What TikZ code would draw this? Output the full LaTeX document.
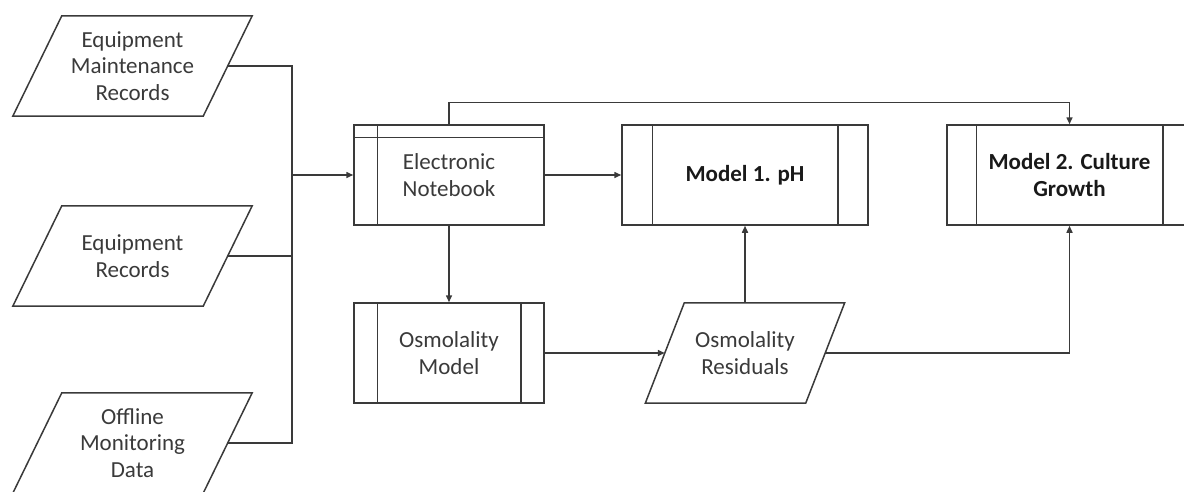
\documentclass[tikz,border=0pt]{standalone}
\usepackage{fontspec}
\setmainfont{Carlito}
\usetikzlibrary{arrows.meta}
\definecolor{ln}{HTML}{3A3A3A}
\definecolor{tx}{HTML}{3A3A3A}
\begin{document}
\begin{tikzpicture}[x=1pt,y=-1pt,
  line/.style={draw=ln, line width=1.5pt},
  arr/.style={line, -{Triangle[length=7pt,width=6pt]}},
  box/.style={line, minimum width=#1, minimum height=100pt, inner sep=0pt, align=center,
              font=\fontsize{23}{26.5}\selectfont, text=tx},
  pbox/.style={minimum width=#1, minimum height=100pt, inner sep=0pt, align=center,
              font=\fontsize{23}{26.5}\selectfont, text=tx},
  bold/.style={font=\fontsize{23}{26.5}\selectfont\bfseries, text=black!90}]
\useasboundingbox (0,0) rectangle (1184,491);
\clip (0,0) rectangle (1184,491);

% input parallelograms
\node[pbox=239pt] (emr) at (132.5,66) {Equipment\\Maintenance\\Records};
\draw[line] ([xshift=49pt]emr.north west) -- (emr.north east) -- ([xshift=-49pt]emr.south east) -- (emr.south west) -- cycle;
\node[pbox=239pt] (er) at (132.5,256) {Equipment\\Records};
\draw[line] ([xshift=49pt]er.north west) -- (er.north east) -- ([xshift=-49pt]er.south east) -- (er.south west) -- cycle;
\node[pbox=239pt] (omd) at (132.5,443) {Offline\\Monitoring\\Data};
\draw[line] ([xshift=49pt]omd.north west) -- (omd.north east) -- ([xshift=-49pt]omd.south east) -- (omd.south west) -- cycle;

% electronic notebook (internal storage)
\node[box=190pt] (en) at (449,175) {Electronic\\Notebook};
\draw[line] ([yshift=-13pt]en.north west) -- ([yshift=-13pt]en.north east);
\draw[line] ([xshift=24pt]en.north west) -- ([xshift=24pt]en.south west);

% model 1
\node[box=246pt, bold] (m1) at (745,175) {Model 1. pH};
\draw[line] ([xshift=31pt]m1.north west) -- ([xshift=31pt]m1.south west);
\draw[line] ([xshift=-31pt]m1.north east) -- ([xshift=-31pt]m1.south east);

% model 2
\node[box=245pt, bold] (m2) at (1069.5,175) {Model 2. Culture\\Growth};
\draw[line] ([xshift=30pt]m2.north west) -- ([xshift=30pt]m2.south west);
\draw[line] ([xshift=-30pt]m2.north east) -- ([xshift=-30pt]m2.south east);

% osmolality model
\node[box=190pt] (om) at (449,353) {Osmolality\\Model};
\draw[line] ([xshift=24pt]om.north west) -- ([xshift=24pt]om.south west);
\draw[line] ([xshift=-24pt]om.north east) -- ([xshift=-24pt]om.south east);

% osmolality residuals
\node[pbox=199pt] (or) at (745,353) {Osmolality\\Residuals};
\draw[line] ([xshift=39pt]or.north west) -- (or.north east) -- ([xshift=-39pt]or.south east) -- (or.south west) -- cycle;

% bus
\coordinate (bt) at (292,66);
\coordinate (bb) at (292,443);
\draw[line] ([xshift=-24.5pt]emr.east) -- (bt) -- (bb) -- ([xshift=-24.5pt]omd.east);
\draw[line] ([xshift=-24.5pt]er.east) -- (er.east -| bt);
\draw[arr] (bt |- en.west) -- (en.west);

% connectors
\draw[arr] (en.east) -- (m1.west);
\draw[arr] (en.south) -- (om.north);
\draw[arr] (en.north) -- ++(0,-22) -| (m2.north);
\draw[arr] (om.east) -- ([xshift=19.5pt]or.west);
\draw[arr] (or.north) -- (m1.south);
\draw[arr] ([xshift=-19.5pt]or.east) -| (m2.south);
\end{tikzpicture}
\end{document}
